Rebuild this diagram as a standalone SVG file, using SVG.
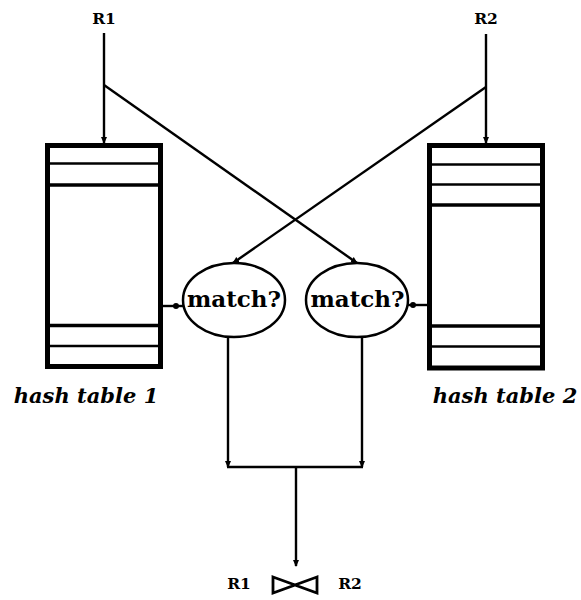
<svg xmlns="http://www.w3.org/2000/svg" width="581" height="600" viewBox="0 0 581 600">
  <style>
    .bg { fill: #ffffff; }
    .frame { fill: #ffffff; stroke: #000; stroke-width: 5; }
    .slot { stroke: #000; fill: none; }
    .thin { stroke-width: 2.4; }
    .thick { stroke-width: 3.6; }
    .oval { fill: #ffffff; stroke: #000; stroke-width: 2.5; }
    .wire { fill: none; stroke: #000; stroke-width: 2.4; }
    .rel { font-family: "DejaVu Serif", "Liberation Serif", serif; font-weight: bold; font-size: 15.5px; fill: #000; }
    .op { font-family: "DejaVu Serif", "Liberation Serif", serif; font-weight: bold; font-size: 23px; fill: #000; }
    .cap { font-family: "DejaVu Serif", "Liberation Serif", serif; font-weight: bold; font-style: italic; font-size: 21px; fill: #000; }
  </style>
  <defs>
    <marker id="tip" viewBox="0 0 8 8" refX="7" refY="4" markerWidth="7" markerHeight="7" markerUnits="userSpaceOnUse" orient="auto">
      <path d="M0,0.5 L8,4 L0,7.5 z" fill="#000"/>
    </marker>
  </defs>

  <rect class="bg" x="0" y="0" width="581" height="600"/>

  <!-- input relations -->
  <g id="r1">
    <text class="rel" x="104" y="24" text-anchor="middle">R1</text>
  </g>
  <g id="r2">
    <text class="rel" x="486" y="24" text-anchor="middle">R2</text>
  </g>

  <!-- hash table 1 -->
  <g id="hash-table-1">
    <rect class="frame" x="47.5" y="145.5" width="113" height="221"/>
    <line class="slot thin" x1="47.5" y1="163.5" x2="160.5" y2="163.5"/>
    <line class="slot thick" x1="47.5" y1="185" x2="160.5" y2="185"/>
    <line class="slot thick" x1="47.5" y1="325.5" x2="160.5" y2="325.5"/>
    <line class="slot thin" x1="47.5" y1="346" x2="160.5" y2="346"/>
    <text class="cap" x="86" y="403" text-anchor="middle">hash table 1</text>
  </g>

  <!-- hash table 2 -->
  <g id="hash-table-2">
    <rect class="frame" x="429.5" y="145.5" width="113" height="222.5"/>
    <line class="slot thin" x1="429.5" y1="164.5" x2="542.5" y2="164.5"/>
    <line class="slot thin" x1="429.5" y1="184.5" x2="542.5" y2="184.5"/>
    <line class="slot thick" x1="429.5" y1="205" x2="542.5" y2="205"/>
    <line class="slot thick" x1="429.5" y1="326" x2="542.5" y2="326"/>
    <line class="slot thin" x1="429.5" y1="346.5" x2="542.5" y2="346.5"/>
    <text class="cap" x="505" y="403" text-anchor="middle">hash table 2</text>
  </g>

  <!-- probe units -->
  <g id="match-1">
    <ellipse class="oval" cx="234" cy="300" rx="51" ry="37"/>
    <text class="op" x="234" y="307" text-anchor="middle">match?</text>
  </g>
  <g id="match-2">
    <ellipse class="oval" cx="357" cy="300" rx="51" ry="37"/>
    <text class="op" x="357.5" y="307" text-anchor="middle">match?</text>
  </g>

  <!-- join result -->
  <g id="result">
    <text class="rel" x="239" y="589" text-anchor="middle">R1</text>
    <path d="M273,577 L295,585 L273,593 Z M317,577 L295,585 L317,593 Z" fill="none" stroke="#000" stroke-width="2.8" stroke-linejoin="miter"/>
    <text class="rel" x="350" y="589" text-anchor="middle">R2</text>
  </g>

  <!-- connectors -->
  <g id="connectors">
    <line class="wire" x1="104" y1="33" x2="104" y2="143" marker-end="url(#tip)"/>
    <line class="wire" x1="486" y1="34" x2="486" y2="143" marker-end="url(#tip)"/>
    <line class="wire" x1="104" y1="85" x2="357" y2="263" marker-end="url(#tip)"/>
    <line class="wire" x1="486" y1="87" x2="233" y2="263" marker-end="url(#tip)"/>
    <line class="wire" x1="163" y1="306" x2="183" y2="306"/>
    <circle cx="176" cy="306" r="3" fill="#000"/>
    <line class="wire" x1="408" y1="305" x2="427" y2="305"/>
    <circle cx="413" cy="305" r="3" fill="#000"/>
    <line class="wire" x1="228" y1="336" x2="228" y2="467" marker-end="url(#tip)"/>
    <line class="wire" x1="362" y1="336" x2="362" y2="467" marker-end="url(#tip)"/>
    <line class="wire" x1="227" y1="467" x2="363" y2="467"/>
    <line class="wire" x1="296" y1="467" x2="296" y2="566" marker-end="url(#tip)"/>
  </g>
</svg>
